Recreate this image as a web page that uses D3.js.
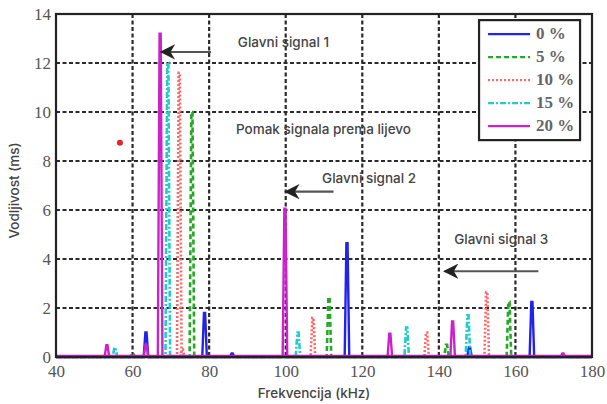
<!DOCTYPE html>
<html>
<head>
<meta charset="utf-8">
<script src="https://cdn.jsdelivr.net/npm/d3@7"></script>
<style>
  body { margin: 0; background: #fff; }
  .tick text { font-family: "Liberation Serif", "DejaVu Serif", serif; font-size: 17px; fill: #555; }
  .grid line { stroke: #2a2a2a; stroke-width: 2.2; stroke-dasharray: 4 2.5; }
  .note { font-family: Inter, "Noto Sans", sans-serif; font-size: 13.5px; font-weight: 500; fill: #444; }
  .title { font-family: Inter, "Noto Sans", sans-serif; font-size: 13.5px; font-weight: 500; fill: #444; }
  .leg { font-family: "Liberation Serif", "DejaVu Serif", serif; font-size: 17px; font-weight: bold; fill: #666; }
</style>
</head>
<body>
<svg id="chart" width="607" height="404"></svg>
<script>
const svg = d3.select("#chart");
const margin = { top: 14, right: 15, bottom: 47, left: 56 };
const width = 607 - margin.left - margin.right;
const height = 404 - margin.top - margin.bottom;

// series labels, colours and dash styles
const seriesNames = ["0 %", "5 %", "10 %", "15 %", "20 %"];
const seriesColors = ["#2222ee", "#22aa22", "#ff6666", "#22cccc", "#cc22cc"];
const seriesDash = ["none", "5 3", "2 2", "6 2 2 2", "none"];

// peaks: [frequency kHz, conductivity ms]
const peaks0 = [[63.5, 1.0], [78.8, 1.8], [86, 0.15], [116, 4.65], [148, 0.4], [164.3, 2.25]];
const peaks5 = [[60, 0.15], [75.5, 10.0], [111.3, 2.45], [142, 0.5], [158.3, 2.25]];
const peaks10 = [[72.2, 11.6], [73, 0.3], [107.1, 1.6], [136.8, 1.0], [152.5, 2.65]];
const peaks15 = [[55.4, 0.38], [69.2, 12.0], [103.2, 1.0], [131.6, 1.2], [147.6, 1.7]];
const peaks20 = [[53.3, 0.48], [63.5, 0.5], [67.2, 13.2], [99.8, 6.05], [127.2, 0.95], [143.6, 1.45], [172.4, 0.15]];
const allPeaks = [peaks0, peaks5, peaks10, peaks15, peaks20];

const xTicks = [40, 60, 80, 100, 120, 140, 160, 180];
const yTicks = [0, 2, 4, 6, 8, 10, 12, 14];

// annotations: text, text position and arrow [x1, y1, x2, y2] in data units
const notes = [
  { text: "Glavni signal 1", x: 87.5, y: 12.65, arrow: [80.5, 12.45, 67.5, 12.45] },
  { text: "Pomak signala prema lijevo", x: 87, y: 9.1, arrow: null },
  { text: "Glavni signal 2", x: 109.5, y: 7.1, arrow: [112.5, 6.75, 100, 6.75] },
  { text: "Glavni signal 3", x: 144, y: 4.6, arrow: [166, 3.5, 141.5, 3.5] }
];
const dot = [56.7, 8.75];

const x = d3.scaleLinear().domain([40, 180]).range([0, width]);
const y = d3.scaleLinear().domain([0, 14]).range([height, 0]);

const g = svg.append("g").attr("transform", `translate(${margin.left},${margin.top})`);

// grid
g.append("g").attr("class", "grid")
  .selectAll("line").data(xTicks.slice(1, -1)).join("line")
  .attr("x1", d => x(d)).attr("x2", d => x(d)).attr("y1", 0).attr("y2", height);
g.append("g").attr("class", "grid")
  .selectAll("line").data(yTicks.slice(1, -1)).join("line")
  .attr("x1", 0).attr("x2", width).attr("y1", d => y(d)).attr("y2", d => y(d));

// axes
const xAxis = g.append("g").attr("transform", `translate(0,${height})`)
  .call(d3.axisBottom(x).tickValues(xTicks).tickSize(0).tickPadding(8));
const yAxis = g.append("g")
  .call(d3.axisLeft(y).tickValues(yTicks).tickSize(0).tickPadding(5));
xAxis.select(".domain").remove();
yAxis.select(".domain").remove();

// spectra
const line = d3.line().x(d => x(d[0])).y(d => y(d[1]));
const w = 0.6;
allPeaks.forEach((pk, i) => {
  const pts = [[40, 0]];
  pk.forEach(p => { pts.push([p[0] - w, 0], [p[0] - 0.15, p[1]], [p[0] + 0.15, p[1]], [p[0] + w, 0]); });
  pts.push([180, 0]);
  g.append("path").datum(pts)
    .attr("fill", "none")
    .attr("stroke", seriesColors[i])
    .attr("stroke-width", i === 0 || i === 4 ? 2.4 : 2.6)
    .attr("stroke-dasharray", seriesDash[i])
    .attr("d", line);
});
// baseline
g.append("line").attr("x1", 0).attr("x2", width).attr("y1", y(0) - 1).attr("y2", y(0) - 1)
  .attr("stroke", "#bb22bb").attr("stroke-width", 2.5);

// frame
g.append("rect").attr("width", width).attr("height", height)
  .attr("fill", "none").attr("stroke", "#222").attr("stroke-width", 2.2);

// annotations
svg.append("defs").append("marker")
  .attr("id", "arr").attr("viewBox", "0 0 10 10").attr("refX", 9).attr("refY", 5)
  .attr("markerWidth", 7).attr("markerHeight", 7).attr("orient", "auto")
  .append("path").attr("d", "M10,5 L0,0 L3,5 L0,10 Z").attr("fill", "#222");
notes.forEach(n => {
  g.append("text").attr("class", "note").attr("x", x(n.x)).attr("y", y(n.y)).text(n.text);
  if (n.arrow) {
    g.append("line")
      .attr("x1", x(n.arrow[0])).attr("y1", y(n.arrow[1]))
      .attr("x2", x(n.arrow[2])).attr("y2", y(n.arrow[3]))
      .attr("stroke", "#555").attr("stroke-width", 2.2)
      .attr("marker-end", "url(#arr)");
  }
});
g.append("circle").attr("cx", x(dot[0])).attr("cy", y(dot[1])).attr("r", 3).attr("fill", "#ee2222");

// legend
const leg = g.append("g").attr("transform", `translate(${x(150.5)},${y(13.75)})`);
leg.append("rect").attr("width", 101).attr("height", 120)
  .attr("fill", "#fff").attr("stroke", "#222").attr("stroke-width", 2.2);
seriesNames.forEach((s, i) => {
  const ry = 14 + i * 23;
  leg.append("line").attr("x1", 9).attr("x2", 51).attr("y1", ry).attr("y2", ry)
    .attr("stroke", seriesColors[i]).attr("stroke-width", 2.4)
    .attr("stroke-dasharray", seriesDash[i]);
  leg.append("text").attr("class", "leg").attr("x", 57).attr("y", ry + 5).text(s);
});

// axis titles
svg.append("text").attr("class", "title").attr("text-anchor", "middle")
  .attr("x", margin.left + width / 2 - 10).attr("y", 398).text("Frekvencija (kHz)");
svg.append("text").attr("class", "title").attr("text-anchor", "middle")
  .attr("transform", `translate(19,${margin.top + height / 2 + 5}) rotate(-90)`)
  .text("Vodljivost (ms)");
</script>
</body>
</html>
